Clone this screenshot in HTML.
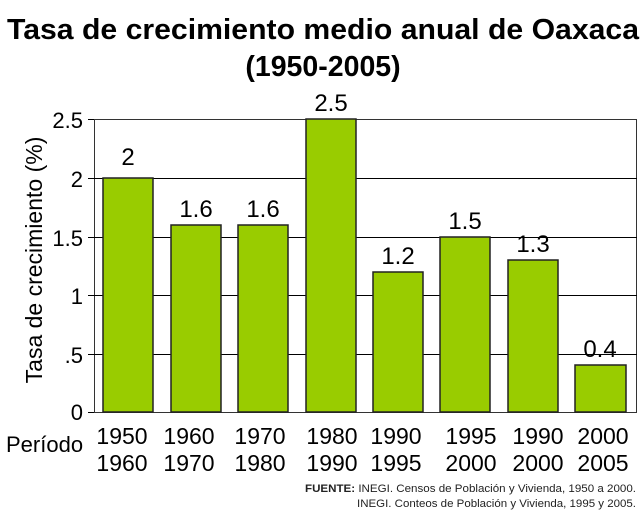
<!DOCTYPE html><html><head><meta charset="utf-8"><style>body{margin:0;background:#fff}</style></head><body>
<svg width="644" height="515" xmlns="http://www.w3.org/2000/svg" font-family="Liberation Sans, Arial, sans-serif">
<text x="323" y="39" text-anchor="middle" font-size="28.5" font-weight="bold" textLength="632" lengthAdjust="spacingAndGlyphs">Tasa de crecimiento medio anual de Oaxaca</text>
<text x="323" y="76" text-anchor="middle" font-size="28.5" font-weight="bold">(1950-2005)</text>
<g stroke="#000" stroke-width="1">
<rect x="94.5" y="119.5" width="542" height="293" fill="none" stroke="#333"/>
<line x1="88" y1="178.5" x2="637" y2="178.5"/>
<line x1="88" y1="237.5" x2="637" y2="237.5"/>
<line x1="88" y1="295.5" x2="637" y2="295.5"/>
<line x1="88" y1="354.5" x2="637" y2="354.5"/>
<line x1="88" y1="119.5" x2="94" y2="119.5"/>
<line x1="88" y1="412.5" x2="94" y2="412.5"/>
</g>
<g fill="#99cc00" stroke="#222" stroke-width="1.5">
<rect x="103" y="178" width="50" height="234"/>
<rect x="171" y="225" width="50" height="187"/>
<rect x="238" y="225" width="50" height="187"/>
<rect x="306" y="119" width="50" height="293"/>
<rect x="373" y="272" width="50" height="140"/>
<rect x="440" y="237" width="50" height="175"/>
<rect x="508" y="260" width="50" height="152"/>
<rect x="575" y="365" width="51" height="47"/>
</g>
<g font-size="24" text-anchor="middle">
<text x="128" y="165">2</text><text x="196" y="217">1.6</text><text x="263" y="217">1.6</text>
<text x="331" y="111">2.5</text><text x="398" y="264">1.2</text><text x="465" y="229">1.5</text>
<text x="533" y="252">1.3</text><text x="600" y="357">0.4</text>
</g>
<g font-size="22" text-anchor="end">
<text x="83" y="128">2.5</text><text x="83" y="187">2</text><text x="83" y="246">1.5</text>
<text x="83" y="304">1</text><text x="83" y="363">.5</text><text x="83" y="420">0</text>
</g>
<text transform="translate(42,260) rotate(-90)" font-size="23" text-anchor="middle">Tasa de crecimiento (%)</text>
<text x="6" y="452" font-size="22">Período</text>
<g font-size="23" text-anchor="middle">
<text x="122" y="444">1950</text><text x="122" y="471">1960</text>
<text x="189" y="444">1960</text><text x="189" y="471">1970</text>
<text x="260" y="444">1970</text><text x="260" y="471">1980</text>
<text x="332" y="444">1980</text><text x="332" y="471">1990</text>
<text x="396" y="444">1990</text><text x="396" y="471">1995</text>
<text x="471" y="444">1995</text><text x="471" y="471">2000</text>
<text x="538" y="444">1990</text><text x="538" y="471">2000</text>
<text x="603" y="444">2000</text><text x="603" y="471">2005</text>
</g>
<g font-size="11" fill="#222">
<text x="305" y="492" textLength="331" lengthAdjust="spacingAndGlyphs"><tspan font-weight="bold">FUENTE:</tspan>  INEGI. Censos de Población y Vivienda, 1950 a 2000.</text>
<text x="357" y="507" textLength="279" lengthAdjust="spacingAndGlyphs">INEGI. Conteos de Población y Vivienda, 1995 y 2005.</text>
</g>
</svg>
</body></html>
